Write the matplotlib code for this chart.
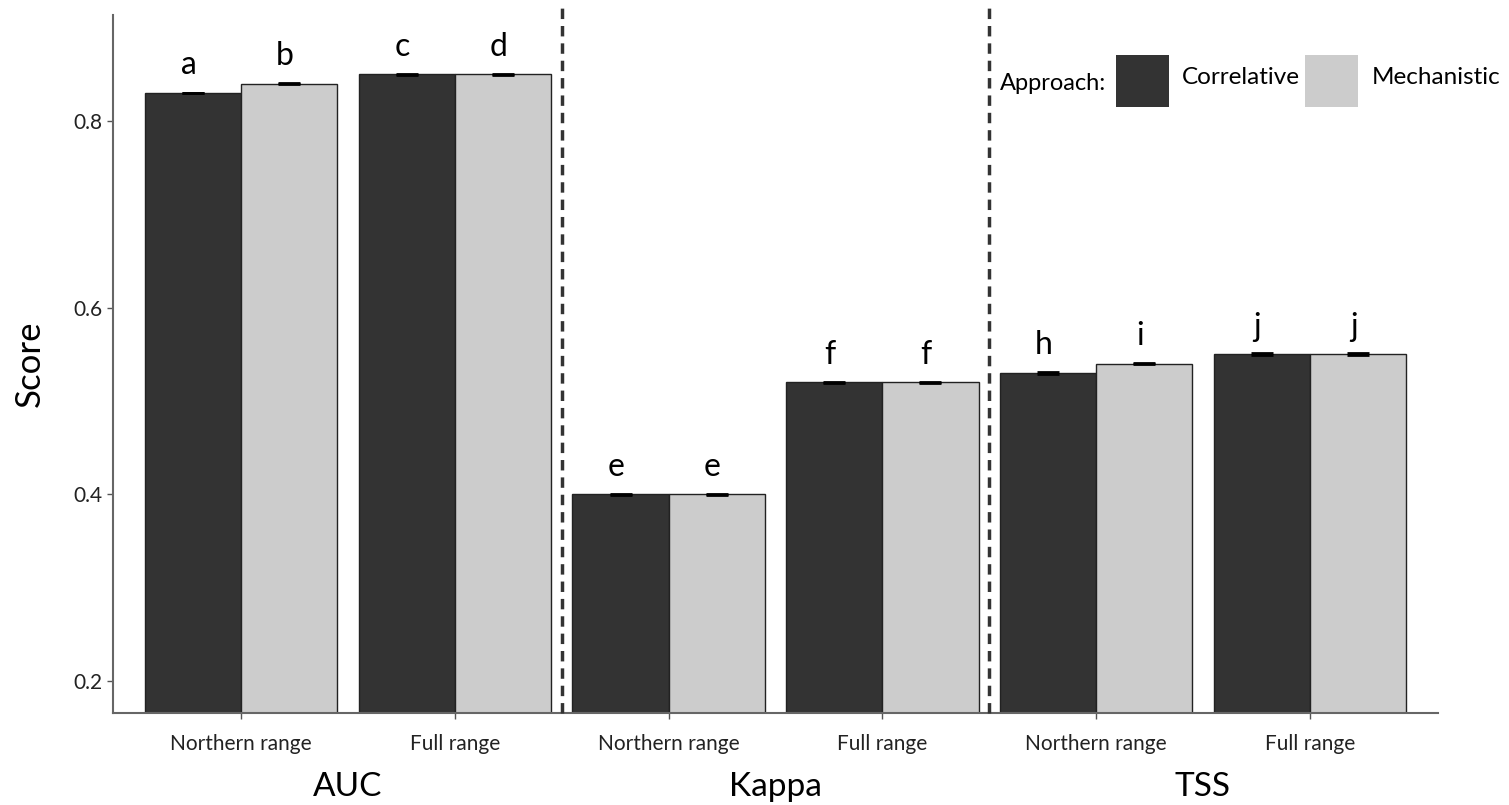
import matplotlib.pyplot as plt
import numpy as np

plt.rcParams['font.family'] = ['Lato', 'DejaVu Sans']

metrics = ["AUC", "Kappa", "TSS"]
ranges = ["Northern range", "Full range"]
approaches = ["Correlative", "Mechanistic"]

correlative = [0.83, 0.85, 0.40, 0.52, 0.53, 0.55]
mechanistic = [0.84, 0.85, 0.40, 0.52, 0.54, 0.55]
correlative_err = [0.0003, 0.0003, 0.0003, 0.0003, 0.0012, 0.0012]
mechanistic_err = [0.0006, 0.0006, 0.0003, 0.0006, 0.0006, 0.0012]
letters_corr = ["a", "c", "e", "f", "h", "j"]
letters_mech = ["b", "d", "e", "f", "i", "j"]

colors = ["#333333", "#cccccc"]

fig = plt.figure(figsize=(15.09, 8.05), dpi=100)
ax = fig.add_axes([113 / 1509, 1 - 713 / 805, (1438 - 113) / 1509, (713 - 15) / 805])

x = np.arange(1, 7)
w = 0.45
for vals, errs, letters, col, off in [
    (correlative, correlative_err, letters_corr, colors[0], -w / 2),
    (mechanistic, mechanistic_err, letters_mech, colors[1], w / 2),
]:
    ax.bar(x + off, vals, width=w, color=col, edgecolor="#222222", linewidth=1.0, zorder=2)
    ax.errorbar(x + off, vals, yerr=errs, fmt="none", ecolor="black", elinewidth=1.5,
                capsize=8, capthick=2, zorder=3)
    for xi, v, t in zip(x + off, vals, letters):
        ax.text(xi - 0.02, v + 0.02, t, ha="center", va="baseline", fontsize=23)

for xv in [2.5, 4.5]:
    ax.axvline(xv, ymin=0, ymax=1.012, color="#333333", linestyle=(0, (3, 2)), linewidth=2.5,
               clip_on=False, zorder=4)

ax.set_xlim(0.4, 6.6)
ax.set_ylim(0.1657, 0.9136)
ax.set_yticks([0.2, 0.4, 0.6, 0.8])
ax.set_yticklabels(["0.2", "0.4", "0.6", "0.8"], fontsize=15, color="#222222")
ax.set_xticks(x)
ax.set_xticklabels(ranges * 3, fontsize=15, color="#222222")
ax.tick_params(axis="both", length=4, width=1, color="#555555")
ax.tick_params(axis="x", pad=11)
ax.set_ylabel("Score", fontsize=25, labelpad=20)
for s in ["top", "right"]:
    ax.spines[s].set_visible(False)
for s in ["left", "bottom"]:
    ax.spines[s].set_color("#666666")
    ax.spines[s].set_linewidth(1.5)

for i, m in enumerate(metrics):
    ax.text(1.5 + 2 * i, -0.106, m, transform=ax.get_xaxis_transform(), ha="center", va="center",
            fontsize=24)

# legend
fig.text(1000 / 1509, 1 - 83 / 805, "Approach:", ha="left", va="center", fontsize=17)
for lx, tx, col, lab in [(1116, 1182, colors[0], approaches[0]), (1305, 1372, colors[1], approaches[1])]:
    fig.patches.append(plt.Rectangle((lx / 1509, 1 - 107 / 805), 53 / 1509, 52 / 805,
                                     transform=fig.transFigure, facecolor=col, edgecolor="none"))
    fig.text(tx / 1509, 1 - 78 / 805, lab, ha="left", va="center", fontsize=17.5)

fig.savefig("out.png", dpi=100)
